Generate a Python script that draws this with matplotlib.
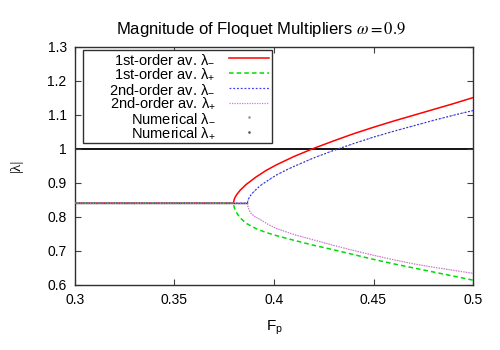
import matplotlib
matplotlib.use("Agg")
import matplotlib.pyplot as plt
from matplotlib.lines import Line2D

plt.rcParams['font.family'] = ['Liberation Sans', 'DejaVu Sans']
plt.rcParams['mathtext.fontset'] = 'custom'
plt.rcParams['mathtext.rm'] = 'Liberation Sans'
plt.rcParams['mathtext.it'] = 'Liberation Sans:italic'

# ---- data ----
F_flat = [0.30, 0.3796, 0.3866]
v_flat = [0.84, 0.84, 0.84]

# 1st-order averaging
F1 = [0.3796, 0.3800, 0.3805, 0.3815, 0.3830, 0.3860, 0.3910, 0.3960, 0.4010,
      0.4100, 0.4195, 0.4300, 0.4400, 0.4500, 0.4600, 0.4700, 0.4800, 0.4900, 0.5000]
first_minus = [0.840, 0.851, 0.858, 0.867, 0.878, 0.895, 0.917, 0.936, 0.952,
               0.977, 1.000, 1.023, 1.044, 1.063, 1.081, 1.098, 1.115, 1.132, 1.150]
first_plus = [0.840, 0.828, 0.820, 0.809, 0.797, 0.781, 0.765, 0.754, 0.745,
              0.731, 0.717, 0.703, 0.689, 0.675, 0.662, 0.650, 0.638, 0.626, 0.614]

# 2nd-order averaging
F2 = [0.3866, 0.3870, 0.3875, 0.3885, 0.3900, 0.3930, 0.3970, 0.4010, 0.4050,
      0.4100, 0.4200, 0.4300, 0.4400, 0.4500, 0.4600, 0.4700, 0.4800, 0.4900, 0.5000]
second_minus = [0.840, 0.850, 0.856, 0.865, 0.875, 0.891, 0.907, 0.922, 0.934,
                0.948, 0.973, 0.995, 1.015, 1.034, 1.051, 1.067, 1.083, 1.098, 1.112]
second_plus = [0.840, 0.828, 0.820, 0.810, 0.802, 0.792, 0.778, 0.766, 0.758,
               0.748, 0.732, 0.716, 0.701, 0.687, 0.674, 0.662, 0.652, 0.643, 0.634]

# numerical (coincides with the 2nd-order curves)
Fn = F2
num_minus = second_minus
num_plus = second_plus

F_unit = [0.3, 0.5]
v_unit = [1.0, 1.0]

xticks = [0.3, 0.35, 0.4, 0.45, 0.5]
xticklabels = ['0.3', '0.35', '0.4', '0.45', '0.5']
yticks = [0.6, 0.7, 0.8, 0.9, 1.0, 1.1, 1.2, 1.3]
yticklabels = ['0.6', '0.7', '0.8', '0.9', '1', '1.1', '1.2', '1.3']

fs = 10

fig = plt.figure(figsize=(5, 3.5), dpi=100)
ax = fig.add_axes([0.15, 0.186, 0.796, 0.681])

ax.plot(F_unit, v_unit, color='black', lw=1.3, zorder=1)
ax.plot(F_flat, v_flat, color='#303030', lw=1.0, zorder=2)

ax.plot([0.3] + F1, [0.84] + first_minus, color='#ff0000', lw=1.1, zorder=3)
ax.plot([0.3] + F1, [0.84] + first_plus, color='#00dd00', lw=1.1,
        ls=(0, (3, 2)), zorder=3)
ax.plot([0.3] + F2, [0.84] + second_minus, color='#4040ff', lw=0.9,
        ls=(0, (1.5, 1.5)), zorder=4)
ax.plot([0.3] + F2, [0.84] + second_plus, color='#e070e0', lw=0.9,
        ls=(0, (1, 1)), zorder=4)
ax.plot([0.3] + Fn, [0.84] + num_minus, color='#202020', lw=0.5,
        ls=(0, (1, 3)), zorder=5)
ax.plot([0.3] + Fn, [0.84] + num_plus, color='#909090', lw=0.5,
        ls=(0, (1, 3)), zorder=5)

ax.set_xlim(0.3, 0.5)
ax.set_ylim(0.6, 1.3)
ax.set_xticks(xticks)
ax.set_xticklabels(xticklabels, fontsize=fs)
ax.set_yticks(yticks)
ax.set_yticklabels(yticklabels, fontsize=fs)
ax.tick_params(direction='in', length=4, width=0.8, top=True, right=True,
               colors='#404040', labelcolor='black', pad=6)
for s in ax.spines.values():
    s.set_linewidth(1.0)
    s.set_color('#303030')

ax.set_xlabel(r'F$_\mathrm{p}$', fontsize=fs + 1, labelpad=8)
ax.set_ylabel('|λ|', fontsize=fs + 1, family=['Liberation Serif'], labelpad=18)
ax.set_title(r'Magnitude of Floquet Multipliers $\omega\mathrm{=0.9}$',
             fontsize=12, math_fontfamily='stix', pad=9, x=0.467)

handles = [
    Line2D([], [], color='#ff0000', lw=1.1),
    Line2D([], [], color='#00dd00', lw=1.1, ls=(0, (3, 2))),
    Line2D([], [], color='#4040ff', lw=0.9, ls=(0, (1.5, 1.5))),
    Line2D([], [], color='#e070e0', lw=0.9, ls=(0, (1, 1))),
    Line2D([], [], color='#999999', lw=0, marker='s', markersize=0.8),
    Line2D([], [], color='#555555', lw=0, marker='s', markersize=0.8),
]
labels = ['1st-order av. λ$_{-}$', '1st-order av. λ$_{+}$',
          '      2nd-order av. λ$_{-}$', '2nd-order av. λ$_{+}$',
          'Numerical λ$_{-}$', 'Numerical λ$_{+}$']
leg = ax.legend(handles, labels, loc='upper left', bbox_to_anchor=(0.02, 0.985),
                borderaxespad=0, markerfirst=False, fontsize=10.5,
                handlelength=2.8, labelspacing=0.0, handletextpad=0.9,
                borderpad=0.15, fancybox=False, framealpha=1, edgecolor='#303030')
leg.get_frame().set_linewidth(1.0)

fig.savefig('out.png', dpi=100)
